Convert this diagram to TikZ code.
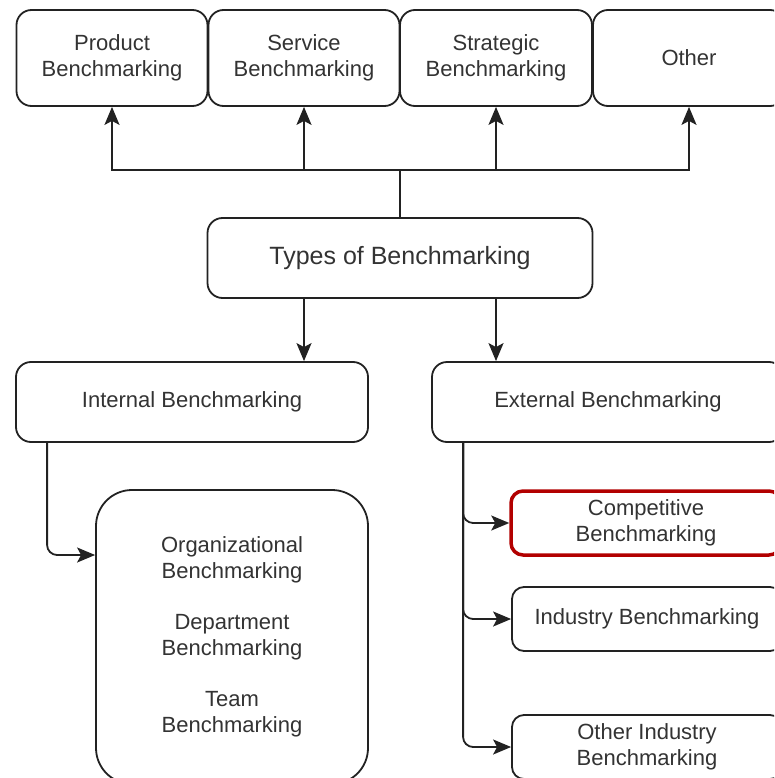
\documentclass[tikz,border=0pt]{standalone}
\usepackage{fontspec}
\setmainfont{Liberation Sans}
\usetikzlibrary{arrows.meta}
\definecolor{txt}{HTML}{333333}
\definecolor{ln}{HTML}{222222}
\definecolor{hl}{HTML}{B20000}
\tikzset{
  box/.style={draw=ln, line width=1.8pt, rounded corners=15pt, text=txt, align=center,
    inner sep=0pt, font=\fontsize{22}{25.5}\selectfont},
  arr/.style={draw=ln, line width=1.8pt, -{Stealth[length=18pt,width=15pt,inset=4pt]}},
}
\begin{document}
\begin{tikzpicture}[x=1pt,y=-1pt]
\useasboundingbox (0,0) rectangle (774,778);
\clip (0,0) rectangle (774,778);
\fill[white] (0,0) rectangle (774,778);
% top row
\node[box, minimum width=191pt, minimum height=96pt] (prod) at (112,58) {Product\\Benchmarking};
\node[box, minimum width=191pt, minimum height=96pt] (serv) at (304,58) {Service\\Benchmarking};
\node[box, minimum width=192pt, minimum height=96pt] (strat) at (496,58) {Strategic\\Benchmarking};
\node[box, minimum width=192pt, minimum height=96pt] (other) at (689,58) {Other};
% center
\node[box, minimum width=385pt, minimum height=80pt, font=\fontsize{25}{30}\selectfont] (types) at (400,258) {Types of Benchmarking};
\node[box, minimum width=352pt, minimum height=80pt] (int) at (192,402) {Internal Benchmarking};
\node[box, minimum width=352pt, minimum height=80pt] (ext) at (608,402) {External Benchmarking};
% internal detail
\node[box, rounded corners=36pt, minimum width=272pt, minimum height=294pt] (big) at (232,637)
  {Organizational\\Benchmarking\\[26pt]Department\\Benchmarking\\[26pt]Team\\Benchmarking};
% external detail
\node[box, draw=hl, line width=3.5pt, rounded corners=12pt, minimum width=270pt, minimum height=64pt] (comp) at (646,523) {Competitive\\Benchmarking};
\node[box, rounded corners=12pt, minimum width=270pt, minimum height=64pt] (ind) at (647,619) {Industry Benchmarking};
\node[box, rounded corners=12pt, minimum width=270pt, minimum height=64pt] (oind) at (647,747) {Other Industry\\Benchmarking};
% connectors top
\coordinate (hub) at (400,170);
\draw[ln, line width=1.8pt] (types.north) -- (hub);
\draw[arr] (hub) -| (prod.south);
\draw[arr] (hub) -| (serv.south);
\draw[arr] (hub) -| (strat.south);
\draw[arr] (hub) -| (other.south);
% types down
\draw[arr] (types.south -| serv.south) -- (int.north -| serv.south);
\draw[arr] (types.south -| strat.south) -- (ext.north -| strat.south);
% internal to big
\draw[arr, rounded corners=10pt] ([xshift=32pt]int.south west) |- ([yshift=82pt]big.west);
% external to children
\draw[arr, rounded corners=10pt] ([xshift=32pt]ext.south west) |- (comp.west);
\draw[arr, rounded corners=10pt] ([xshift=32pt]ext.south west) |- (ind.west);
\draw[arr, rounded corners=10pt] ([xshift=32pt]ext.south west) |- (oind.west);
\end{tikzpicture}
\end{document}
